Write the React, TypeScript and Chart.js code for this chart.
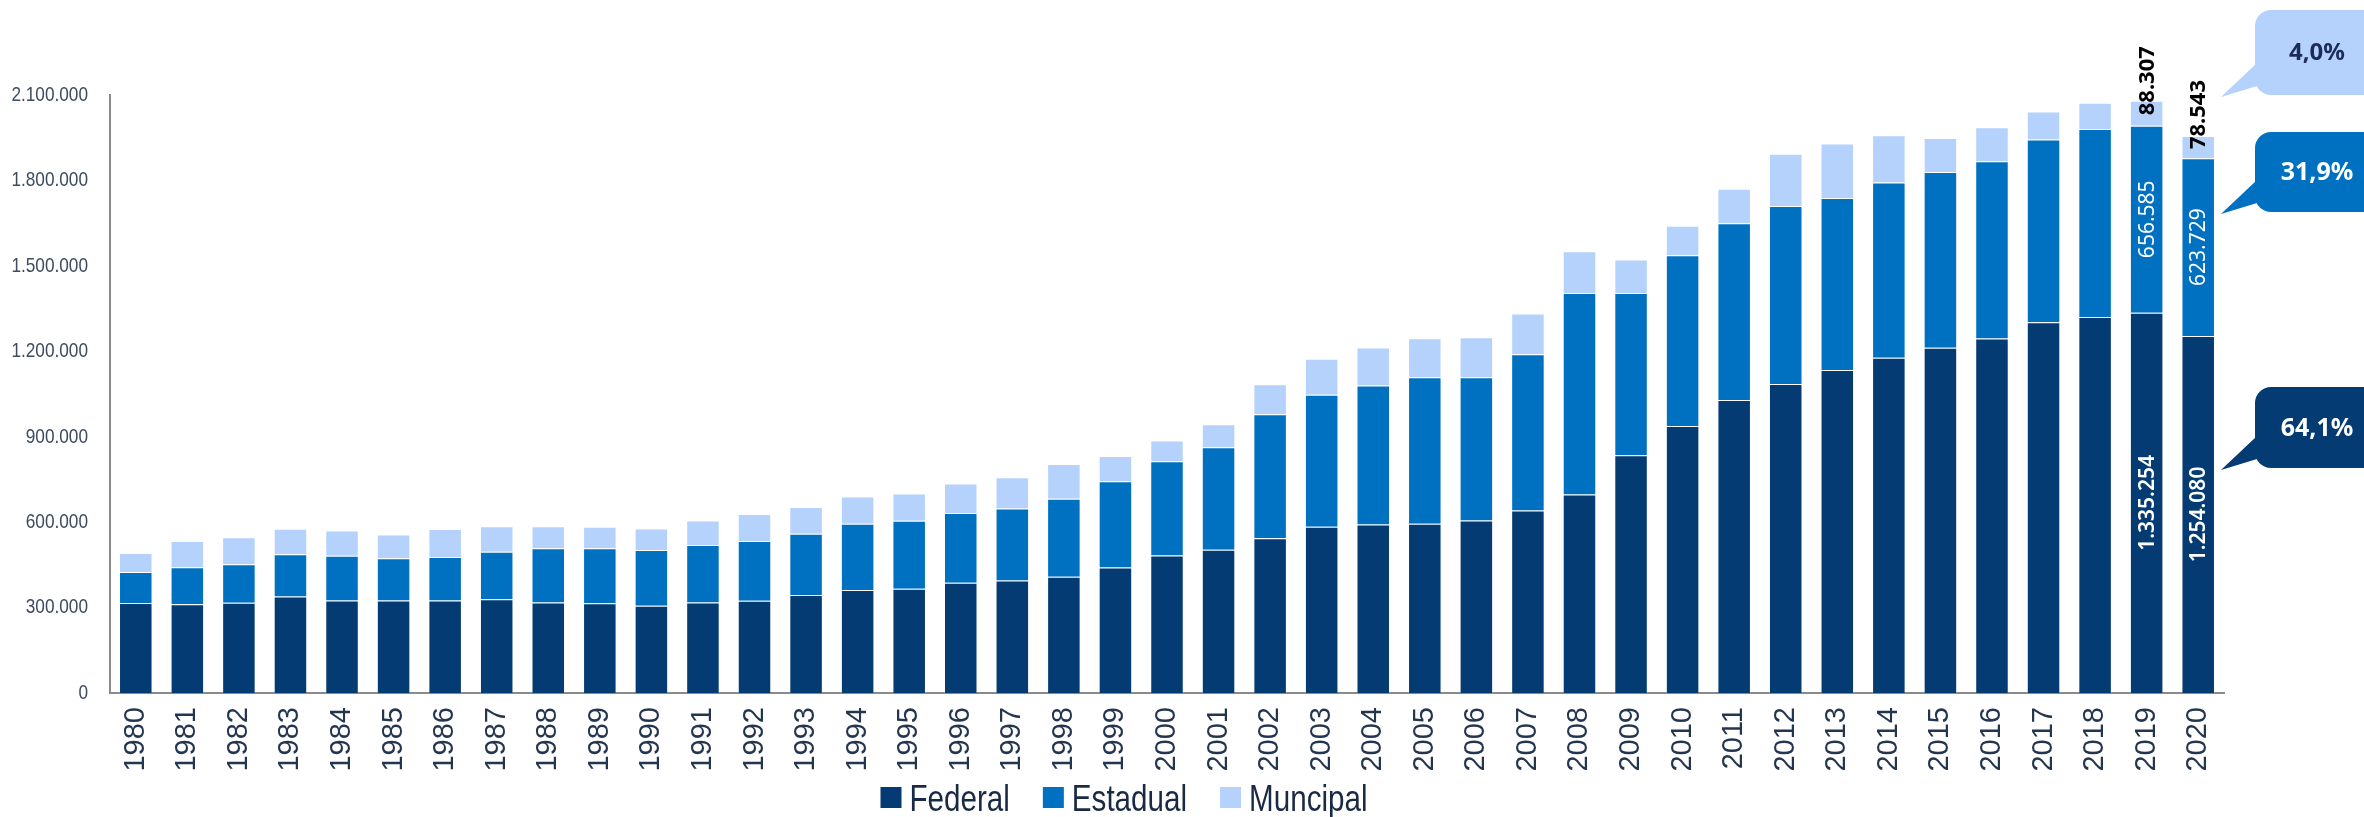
import { useEffect, useRef } from "react";
import { Chart, registerables } from "chart.js";

Chart.register(...registerables);

const years = [
  "1980", "1981", "1982", "1983", "1984", "1985", "1986", "1987", "1988", "1989",
  "1990", "1991", "1992", "1993", "1994", "1995", "1996", "1997", "1998", "1999",
  "2000", "2001", "2002", "2003", "2004", "2005", "2006", "2007", "2008", "2009",
  "2010", "2011", "2012", "2013", "2014", "2015", "2016", "2017", "2018", "2019", "2020",
];

const federal = [
  316000, 312000, 317000, 339000, 325000, 325000, 325000, 329000, 318000, 315000,
  306000, 318000, 324000, 344000, 362000, 366000, 387000, 395000, 408000, 441000,
  483000, 503000, 543000, 584000, 592000, 594000, 606000, 641000, 697000, 835000,
  938000, 1029000, 1085000, 1134000, 1177000, 1212000, 1245000, 1302000, 1320000, 1335254, 1254080,
];

const estadual = [
  109000, 130000, 135000, 148000, 157000, 148000, 153000, 167000, 190000, 193000,
  196000, 202000, 210000, 215000, 232000, 239000, 245000, 253000, 274000, 303000,
  331000, 360000, 436000, 463000, 488000, 515000, 503000, 549000, 708000, 570000,
  599000, 621000, 625000, 604000, 616000, 618000, 622000, 642000, 661000, 656585, 623729,
];

const municipal = [
  67000, 92000, 95000, 90000, 89000, 84000, 98000, 90000, 78000, 76000,
  76000, 86000, 95000, 94000, 96000, 96000, 104000, 110000, 122000, 88000,
  73000, 81000, 105000, 127000, 133000, 137000, 140000, 143000, 146000, 117000,
  104000, 121000, 184000, 192000, 166000, 119000, 120000, 98000, 92000, 88307, 78543,
];

const seriesNames = ["Federal", "Estadual", "Muncipal"];
const seriesColors = ["#033b72", "#0071c1", "#b4d2fc"];
const labeledYears = ["2019", "2020"];
const shareYear = "2020";
const yMax = 2100000;
const yStep = 300000;

const W = 2364;
const H = 817;
const SANS = "'Liberation Sans', Arial, sans-serif";
const NARROW_SCALE = 0.82;
const LABEL_FONT = "'Noto Sans', 'Open Sans', sans-serif";

const fmt = (n: number) => Math.round(n).toString().replace(/\B(?=(\d{3})+(?!\d))/g, ".");
const pct = (v: number) => (Math.round(v * 1000) / 10).toFixed(1).replace(".", ",") + "%";

const dataLabelPlugin = {
  id: "dataLabels",
  afterDatasetsDraw(chart: any) {
    const ctx = chart.ctx;
    labeledYears.forEach((yr) => {
      const idx = years.indexOf(yr);
      chart.data.datasets.forEach((ds: any, di: number) => {
        const el = chart.getDatasetMeta(di).data[idx];
        if (!el) return;
        const { x, y, base } = el.getProps(["x", "y", "base"], true);
        const mid = (y + base) / 2;
        ctx.save();
        ctx.translate(x, mid);
        ctx.rotate(-Math.PI / 2);
        ctx.textBaseline = "middle";
        const txt = fmt(ds.data[idx]);
        if (di === 2) {
          ctx.textAlign = "left";
          ctx.font = `700 22px ${LABEL_FONT}`;
          ctx.fillStyle = "#000000";
          ctx.fillText(txt, -2, 1);
        } else {
          ctx.textAlign = "center";
          ctx.font = `${di === 0 ? 600 : 400} 21px ${LABEL_FONT}`;
          ctx.fillStyle = "#ffffff";
          ctx.fillText(txt, 0, 1);
        }
        ctx.restore();
      });
    });
  },
};

// y tick labels drawn in a condensed style (no narrow font installed)
const yLabelPlugin = {
  id: "yLabels",
  afterDraw(chart: any) {
    const ctx = chart.ctx;
    const ys = chart.scales.y;
    ctx.save();
    ctx.font = `21px ${SANS}`;
    ctx.fillStyle = "#3d4b5f";
    ctx.textAlign = "right";
    ctx.textBaseline = "middle";
    ys.ticks.forEach((t: any) => {
      const py = ys.getPixelForValue(t.value);
      ctx.save();
      ctx.translate(ys.right - 22, py);
      ctx.scale(NARROW_SCALE, 1);
      ctx.fillText(fmt(t.value), 0, 0);
      ctx.restore();
    });
    ctx.restore();
  },
};

// callout layout (pixel positions of the boxes)
const calloutBoxes = [
  { ds: 2, top: 10, bottom: 95, text: "#1c2b5c", size: 24 },
  { ds: 1, top: 132, bottom: 212, text: "#ffffff", size: 25 },
  { ds: 0, top: 387, bottom: 468, text: "#ffffff", size: 25 },
];

const calloutPlugin = {
  id: "callouts",
  afterDraw(chart: any) {
    const ctx = chart.ctx;
    const idx = years.indexOf(shareYear);
    const total = federal[idx] + estadual[idx] + municipal[idx];
    const vals = [federal[idx], estadual[idx], municipal[idx]];
    const el = chart.getDatasetMeta(0).data[idx];
    const { x, width } = el.getProps(["x", "width"], true);
    const tipX = x + width / 2 + 6;
    const x0 = 2255;
    const x1 = W + 30;
    const r = 16;
    calloutBoxes.forEach((c) => {
      ctx.save();
      ctx.fillStyle = seriesColors[c.ds];
      ctx.beginPath();
      ctx.moveTo(x0 + r, c.top);
      ctx.lineTo(x1, c.top);
      ctx.lineTo(x1, c.bottom);
      ctx.lineTo(x0 + r, c.bottom);
      ctx.arcTo(x0, c.bottom, x0, c.bottom - r, r);
      ctx.lineTo(x0, c.top + r);
      ctx.arcTo(x0, c.top, x0 + r, c.top, r);
      ctx.closePath();
      ctx.fill();
      ctx.beginPath();
      ctx.moveTo(x0 + 2, c.bottom - 32);
      ctx.lineTo(tipX, c.bottom + 2);
      ctx.lineTo(x0 + 2, c.bottom - 9);
      ctx.closePath();
      ctx.fill();
      ctx.fillStyle = c.text;
      ctx.font = `700 ${c.size}px ${LABEL_FONT}`;
      ctx.textAlign = "center";
      ctx.textBaseline = "middle";
      ctx.fillText(pct(vals[c.ds] / total), 2317, (c.top + c.bottom) / 2 + 1);
      ctx.restore();
    });
  },
};

const legendPlugin = {
  id: "customLegend",
  afterDraw(chart: any) {
    const ctx = chart.ctx;
    ctx.save();
    ctx.font = `37px ${SANS}`;
    const box = 21;
    const gapBox = 8;
    const gapItem = 33;
    const widths = seriesNames.map((n) => ctx.measureText(n).width * 0.8);
    const total = widths.reduce((a, w) => a + box + gapBox + w, 0) + gapItem * (seriesNames.length - 1);
    let cx = 1124 - total / 2;
    const baseY = 811;
    seriesNames.forEach((n, i) => {
      ctx.fillStyle = seriesColors[i];
      ctx.fillRect(cx, 787, box, box);
      cx += box + gapBox;
      ctx.save();
      ctx.translate(cx, baseY);
      ctx.scale(0.8, 1);
      ctx.fillStyle = "#1a2a44";
      ctx.textAlign = "left";
      ctx.textBaseline = "alphabetic";
      ctx.fillText(n, 0, 0);
      ctx.restore();
      cx += widths[i] + gapItem;
    });
    ctx.restore();
  },
};

export default function App() {
  const ref = useRef<HTMLCanvasElement | null>(null);

  useEffect(() => {
    if (!ref.current) return;
    const seriesData = [federal, estadual, municipal];
    const chart = new Chart(ref.current, {
      type: "bar",
      data: {
        labels: years,
        datasets: seriesNames.map((name, i) => ({
          label: name,
          data: seriesData[i],
          backgroundColor: seriesColors[i],
          borderColor: "rgba(255,255,255,0.2)",
          borderWidth: 1,
          categoryPercentage: 1,
          barPercentage: 0.65,
        })),
      },
      options: {
        responsive: false,
        animation: false,
        maintainAspectRatio: false,
        layout: { padding: { left: 0, right: 140, top: 95, bottom: 0 } },
        plugins: {
          legend: { display: false },
          tooltip: { enabled: false },
        },
        scales: {
          x: {
            stacked: true,
            grid: { display: false, drawTicks: false },
            border: { display: true, color: "#8a8a8a", width: 2 },
            ticks: {
              minRotation: 90,
              maxRotation: 90,
              autoSkip: false,
              padding: 14,
              color: "#24364f",
              font: { family: SANS, size: 29 },
            },
            afterFit: (s: any) => {
              s.height = H - 693;
            },
          },
          y: {
            stacked: true,
            min: 0,
            max: yMax,
            grid: { display: false, drawTicks: false },
            border: { display: true, color: "#8a8a8a", width: 2 },
            ticks: {
              display: false,
              stepSize: yStep,
            },
            afterFit: (s: any) => {
              s.width = 110;
            },
          },
        },
      },
      plugins: [dataLabelPlugin, yLabelPlugin, calloutPlugin, legendPlugin],
    });
    return () => chart.destroy();
  }, []);

  return (
    <div style={{ position: "absolute", left: 0, top: 0, width: W, height: H, background: "#ffffff" }}>
      <canvas ref={ref} width={W} height={H} style={{ width: W, height: H, display: "block" }} />
    </div>
  );
}
